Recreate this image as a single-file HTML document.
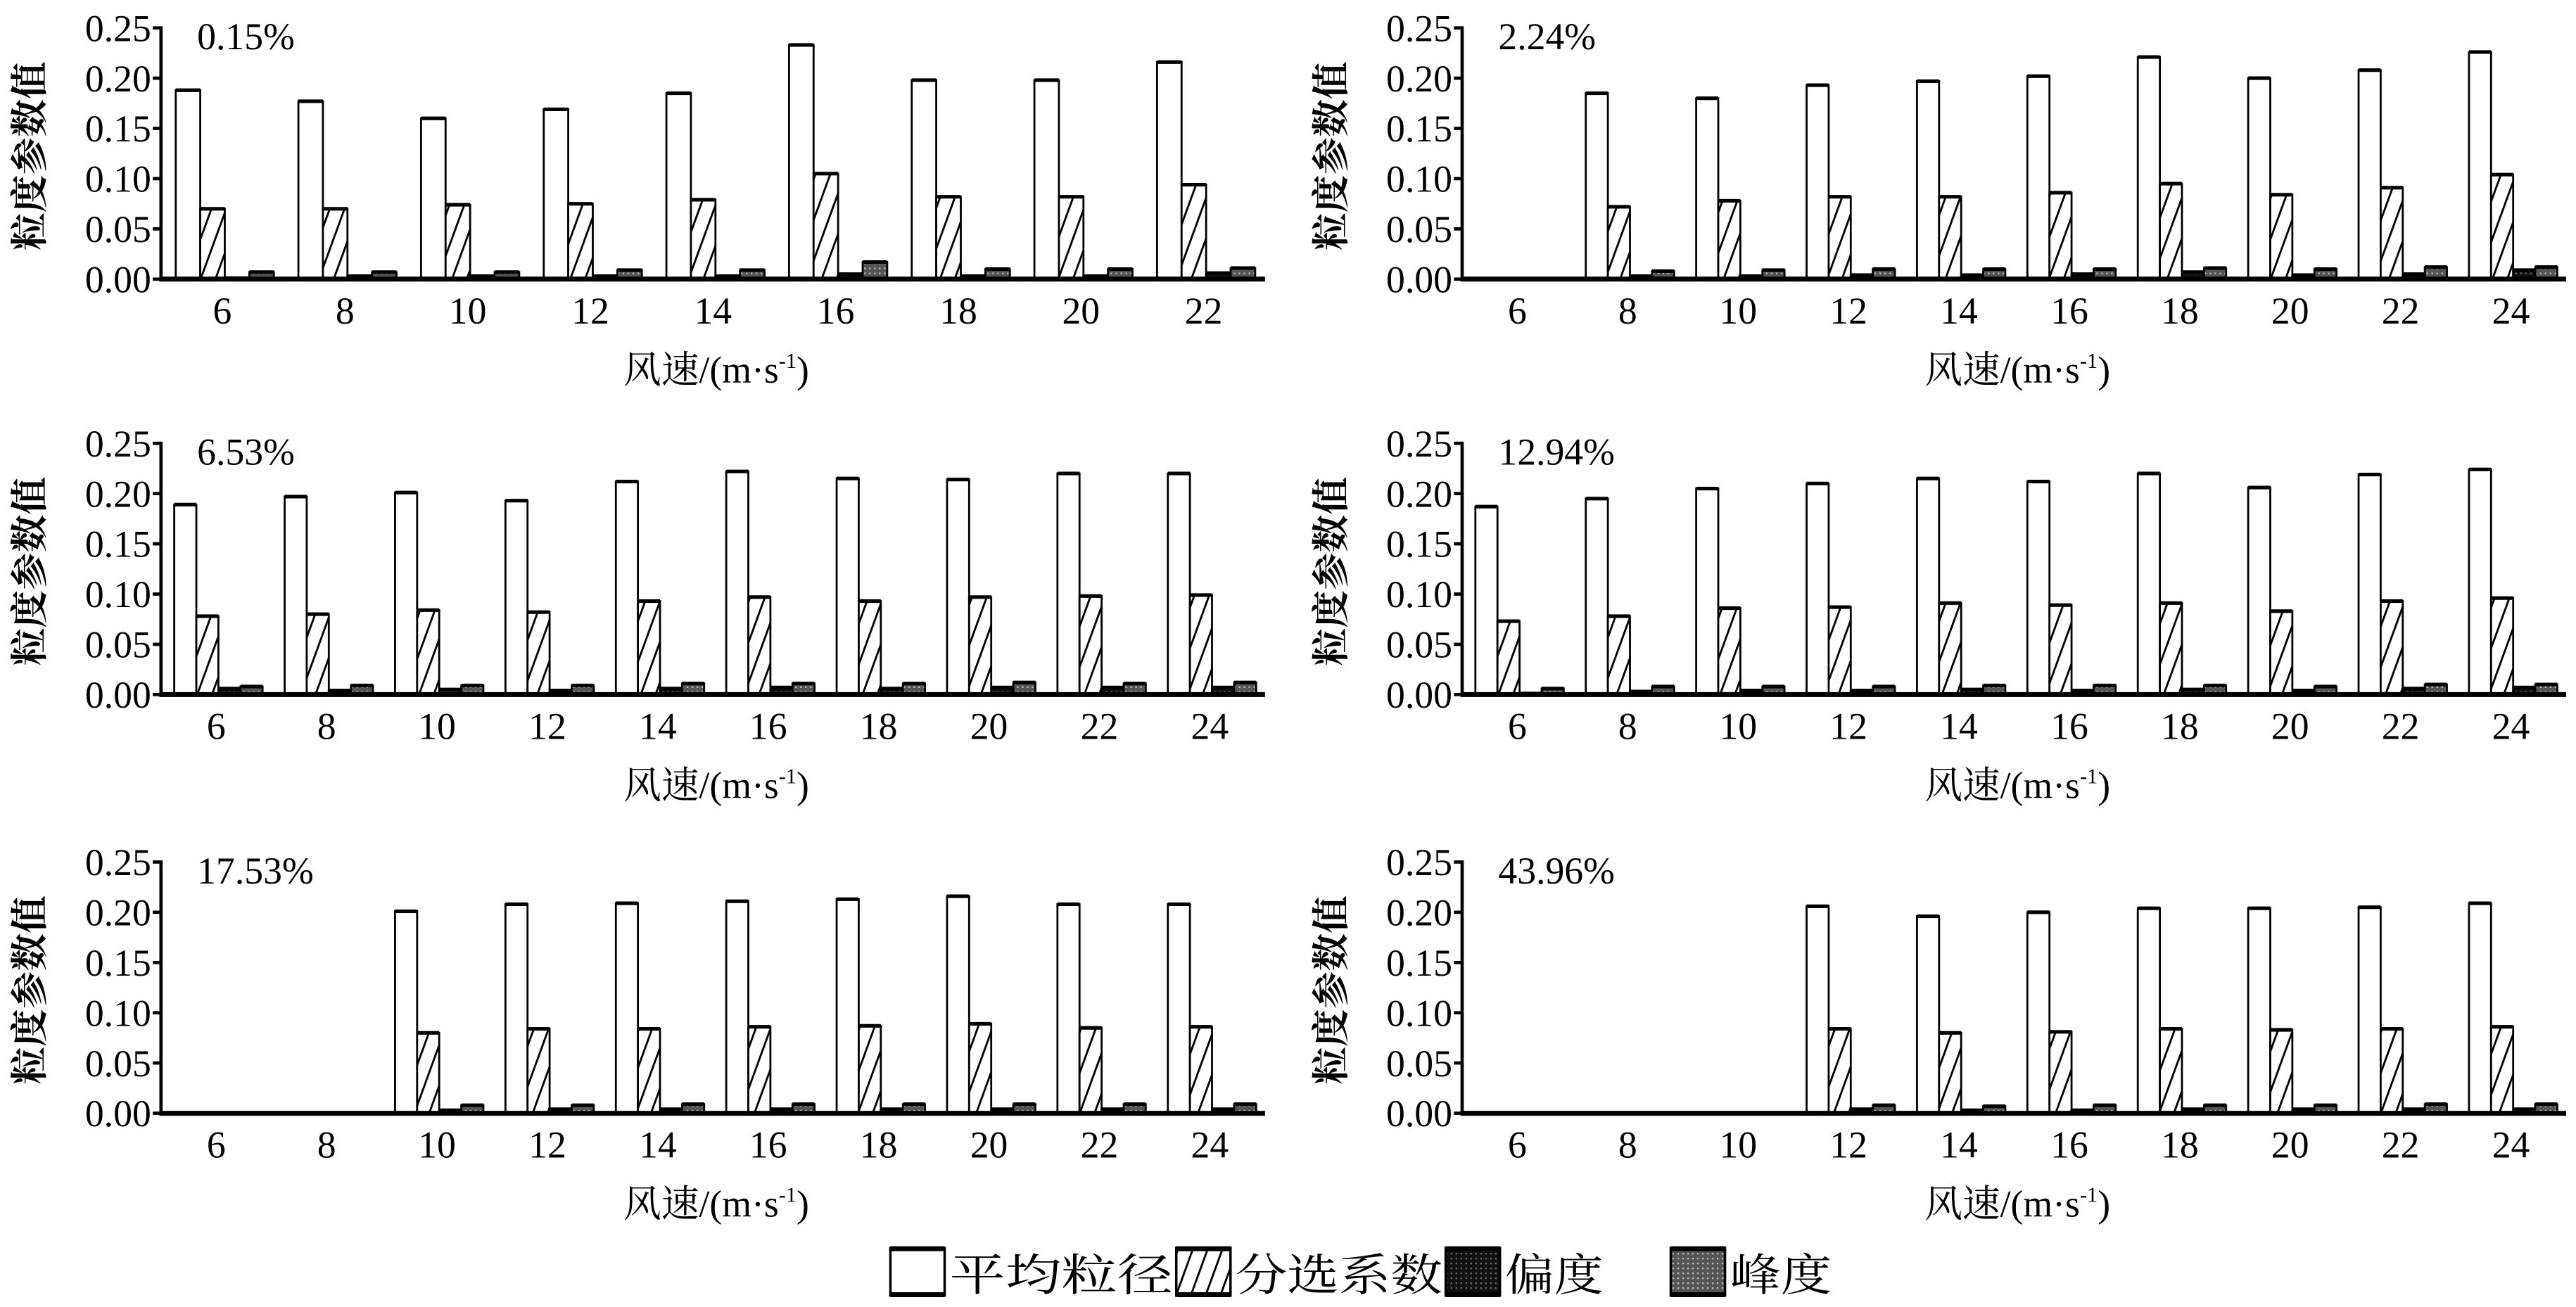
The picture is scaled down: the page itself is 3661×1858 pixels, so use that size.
<!DOCTYPE html>
<html><head><meta charset="utf-8"><style>
html,body{margin:0;padding:0;background:#fff;}
svg{display:block;}
text{font-family:"Liberation Serif","Noto Serif CJK SC",serif;fill:#000;}
</style></head><body>
<svg id="s" width="3661" height="1858" viewBox="0 0 1568 796" preserveAspectRatio="none" xmlns="http://www.w3.org/2000/svg">
<defs>
<pattern id="h" patternUnits="userSpaceOnUse" width="9" height="30" patternTransform="skewX(-20)">
<rect width="9" height="30" fill="#fff"/><line x1="4" y1="0" x2="4" y2="30" stroke="#000" stroke-width="1.3"/>
</pattern>
<pattern id="d" patternUnits="userSpaceOnUse" width="3" height="3"><rect width="3" height="3" fill="#111"/><rect x="1" y="1" width="1" height="1" fill="#666"/></pattern>
<pattern id="g" patternUnits="userSpaceOnUse" width="3" height="3"><rect width="3" height="3" fill="#555"/><rect x="1" y="1" width="1" height="1" fill="#bbb"/></pattern>
</defs>
<g id="root"></g>
</svg>
<script>
var P=[
{x:98,top:17,zero:170,lab:"0.15%",cats:[6,8,10,12,14,16,18,20,22],
m:[.188,.177,.160,.169,.185,.233,.198,.198,.216],s:[.070,.070,.074,.075,.079,.105,.082,.082,.094],
k:[.001,.003,.003,.003,.003,.005,.003,.003,.006],u:[.007,.007,.007,.009,.009,.017,.010,.010,.011]},
{x:890,top:17,zero:170,lab:"2.24%",cats:[6,8,10,12,14,16,18,20,22,24],
m:[0,.185,.180,.193,.197,.202,.221,.200,.208,.226],s:[0,.072,.078,.082,.082,.086,.095,.084,.091,.104],
k:[0,.003,.003,.004,.004,.005,.007,.004,.005,.009],u:[0,.008,.009,.010,.010,.010,.011,.010,.012,.012]},
{x:98,top:270,zero:423,lab:"6.53%",cats:[6,8,10,12,14,16,18,20,22,24],
m:[.189,.197,.201,.193,.212,.222,.215,.214,.220,.220],s:[.078,.080,.084,.082,.093,.097,.093,.097,.098,.099],
k:[.006,.004,.005,.004,.006,.007,.006,.007,.007,.007],u:[.008,.009,.009,.009,.011,.011,.011,.012,.011,.012]},
{x:890,top:270,zero:423,lab:"12.94%",cats:[6,8,10,12,14,16,18,20,22,24],
m:[.187,.195,.205,.210,.215,.212,.220,.206,.219,.224],s:[.073,.078,.086,.087,.091,.089,.091,.083,.093,.096],
k:[.001,.003,.004,.004,.005,.004,.005,.004,.006,.007],u:[.006,.008,.008,.008,.009,.009,.009,.008,.010,.010]},
{x:98,top:525,zero:678,lab:"17.53%",cats:[6,8,10,12,14,16,18,20,22,24],
m:[0,0,.201,.208,.209,.211,.213,.216,.208,.208],s:[0,0,.080,.084,.084,.086,.087,.089,.085,.086],
k:[0,0,.003,.004,.004,.004,.004,.004,.004,.004],u:[0,0,.008,.008,.009,.009,.009,.009,.009,.009]},
{x:890,top:525,zero:678,lab:"43.96%",cats:[6,8,10,12,14,16,18,20,22,24],
m:[0,0,0,.206,.196,.200,.204,.204,.205,.209],s:[0,0,0,.084,.080,.081,.084,.083,.084,.086],
k:[0,0,0,.004,.003,.003,.004,.004,.004,.004],u:[0,0,0,.008,.007,.008,.008,.008,.009,.009]}
];
var o="";
P.forEach(function(p){
 var W=672,H=p.zero-p.top,n=p.cats.length,gw=W/n,sc=H/0.25;
 for(var i=0;i<n;i++){
  if(!p.m[i])continue;
  var bw=gw*0.2,x0=p.x+i*gw+gw*0.12;
  var vals=[p.m[i],p.s[i],p.k[i],p.u[i]],fills=["#fff","url(#h)","url(#d)","url(#g)"];
  for(var j=0;j<4;j++){var h=vals[j]*sc;
   o+='<rect x="'+(x0+j*bw)+'" y="'+(p.zero-h)+'" width="'+bw+'" height="'+h+'" fill="'+fills[j]+'" stroke="#000" stroke-width="1.2"/>';
   o+='<line x1="'+(x0+j*bw)+'" y1="'+(p.zero-h)+'" x2="'+(x0+(j+1)*bw)+'" y2="'+(p.zero-h)+'" stroke="#000" stroke-width="2.2"/>';}
 }
 o+='<line x1="'+p.x+'" y1="'+(p.top-1)+'" x2="'+p.x+'" y2="'+p.zero+'" stroke="#000" stroke-width="2"/>';
 o+='<line x1="'+(p.x-1)+'" y1="'+p.zero+'" x2="'+(p.x+W)+'" y2="'+p.zero+'" stroke="#000" stroke-width="3"/>';
 for(var t=0;t<=5;t++){var y=p.zero-t*0.05*sc;
  o+='<line x1="'+(p.x-5)+'" y1="'+y+'" x2="'+p.x+'" y2="'+y+'" stroke="#000" stroke-width="2"/>';
  o+='<text x="'+(p.x-6)+'" y="'+(y+8)+'" font-size="23" text-anchor="end">'+(t*0.05).toFixed(2)+'</text>';}
 for(var i=0;i<n;i++){
  o+='<text x="'+(p.x+(i+0.5)*gw)+'" y="'+(p.zero+27)+'" font-size="23" text-anchor="middle">'+p.cats[i]+'</text>';}
 o+='<text x="'+(p.x+22)+'" y="'+(p.top+13)+'" font-size="23">'+p.lab+'</text>';
 o+='<text transform="translate('+(p.x-72)+','+(p.top+78)+') rotate(-90)" font-size="23" text-anchor="middle" font-weight="bold">粒度参数值</text>';
 o+='<text x="'+(p.x+338)+'" y="'+(p.zero+63)+'" font-size="23" text-anchor="middle">风速/(m·s<tspan font-size="13" dy="-9">-1</tspan><tspan dy="9">)</tspan></text>';
});
var L=[["#fff","平均粒径",542,136],["url(#h)","分选系数",716,126],["url(#d)","偏度",880,60],["url(#g)","峰度",1017,62]];
L.forEach(function(l){
 o+='<rect x="'+l[2]+'" y="760" width="33" height="29" fill="'+l[0]+'" stroke="#000" stroke-width="1.5"/>';
 o+='<rect x="'+l[2]+'" y="759" width="33" height="3" fill="#000"/><rect x="'+l[2]+'" y="787" width="33" height="3" fill="#000"/>';
 o+='<text x="'+(l[2]+36)+'" y="786" font-size="27" textLength="'+l[3]+'" lengthAdjust="spacingAndGlyphs">'+l[1]+'</text>';
});
document.getElementById("root").innerHTML=o;
</script>
</body></html>
